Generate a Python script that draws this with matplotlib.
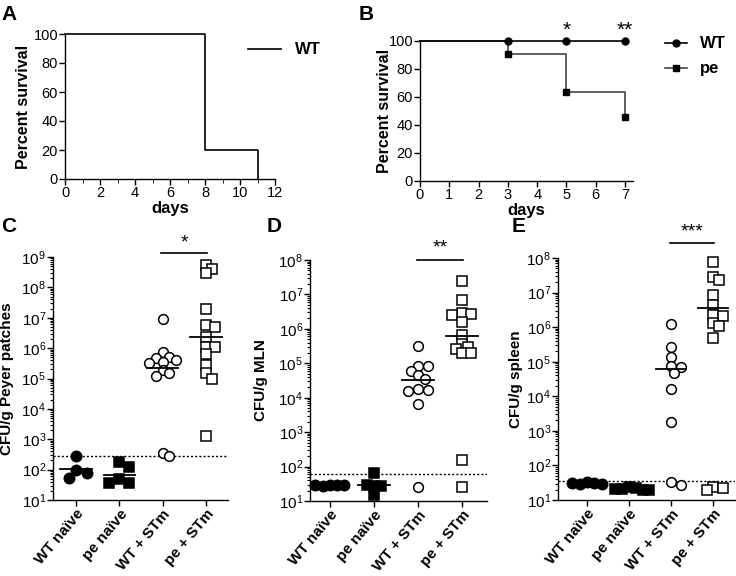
import numpy as np
import matplotlib.pyplot as plt
from matplotlib.ticker import LogLocator, LogFormatterMathtext, NullFormatter, MultipleLocator

plt.rcParams['font.family'] = ['Liberation Sans', 'DejaVu Sans']
plt.rcParams['mathtext.default'] = 'regular'
plt.rcParams['axes.linewidth'] = 1.0

# --- survival data (A, B) ---
days_a = [0, 8, 11]
surv_a = [100, 20, 0]

days_b = [0, 3, 5, 7]
surv_b_wt = [100, 100, 100, 100]
surv_b_pe = [100, 90.9, 63.6, 45.5]
stars_b = {5: '*', 7: '**'}

# --- CFU data (C, D, E) ---
groups = ['WT naïve', 'pe naïve', 'WT + STm', 'pe + STm']

pp_wt_naive = [280, 100, 75, 52]
pp_pe_naive = [180, 125, 50, 35, 35]
pp_wt_stm = [9e6, 7.4e5, 5e5, 4.7e5, 4e5, 3.5e5, 3.2e5, 1.9e5, 1.5e5, 1.2e5, 355, 280]
pp_pe_stm = [5.4e8, 4e8, 3e8, 1.9e7, 5.7e6, 4.9e6, 2.3e6, 1.07e6, 1.07e6, 6.3e5,
             2.8e5, 1.5e5, 9.6e4, 1.3e3]
pp_lines = [105, 66, 2.3e5, 2.3e6]
pp_limit = 290

mln_wt_naive = [30, 29, 28, 30, 29]
mln_pe_naive = [65, 28, 28, 29, 15]
mln_wt_stm = [3.2e5, 8.5e4, 8.5e4, 6e4, 4.5e4, 3.5e4, 1.8e4, 1.7e4, 1.6e4, 6.6e3, 25]
mln_pe_stm = [2.5e7, 6.9e6, 2.9e6, 2.7e6, 2.5e6, 1.6e6, 6.7e5, 3.6e5, 3e5, 2.6e5,
              2e5, 2e5, 155, 26]
mln_lines = [30, 30, 3.3e4, 6.3e5]
mln_limit = 62

spl_wt_naive = [34, 32, 30, 29, 31]
spl_pe_naive = [23, 22, 21, 20, 21, 19]
spl_wt_stm = [1.2e6, 2.6e5, 1.35e5, 7.4e4, 6.9e4, 4.7e4, 1.6e4, 1.8e3, 33, 28]
spl_pe_stm = [7.6e7, 2.8e7, 2.3e7, 8.3e6, 4.4e6, 2.3e6, 2.1e6, 1.3e6, 1.07e6, 4.8e5,
              24, 22, 19.5]
spl_lines = [31, 21, 6.2e4, 3.5e6]
spl_limit = 36

W, H = 736, 576
fig = plt.figure(figsize=(W / 100, H / 100), dpi=100)


def px_axes(l, t, r, b):
    return fig.add_axes([l / W, 1 - b / H, (r - l) / W, (b - t) / H])


def clean(ax):
    ax.spines['top'].set_visible(False)
    ax.spines['right'].set_visible(False)
    ax.tick_params(direction='out', length=4, width=1, labelsize=10.5, pad=1)


def swarm(ax, xc, vals, d, gap):
    # simple beeswarm in pixel space (points may overlap)
    placed = []
    xs = []
    x0 = ax.transData.transform((xc, vals[0]))[0]
    for v in vals:
        yp = ax.transData.transform((xc, v))[1]
        k = 0
        while True:
            off = ((k + 1) // 2) * (1 if k % 2 else -1) * d * 0.35
            ok = all((off - px) ** 2 + (yp - py) ** 2 >= (d * gap) ** 2 for px, py in placed)
            if ok:
                break
            k += 1
        placed.append((off, yp))
        xs.append(ax.transData.inverted().transform((x0 + off, yp))[0])
    return xs


# ---- A ----
axA = px_axes(65, 34, 275, 179)
clean(axA)
axA.step(days_a, surv_a, where='post', color='black', lw=1.2, label='WT', clip_on=False)
axA.set_xlim(0, 12)
axA.set_ylim(0, 100)
axA.xaxis.set_major_locator(MultipleLocator(2))
axA.xaxis.set_minor_locator(MultipleLocator(1))
axA.tick_params(which='minor', length=3)
axA.yaxis.set_major_locator(MultipleLocator(20))
axA.set_xlabel('days', fontsize=12, fontweight='bold', labelpad=1)
axA.set_ylabel('Percent survival', fontsize=11.5, fontweight='bold')
axA.yaxis.set_label_coords(-34 / 210, 0.5)
axA.legend(loc='center left', bbox_to_anchor=(0.80, 0.89), frameon=False,
           handlelength=2.0, prop={'weight': 'bold', 'size': 12})

# ---- B ----
axB = px_axes(420, 41, 633, 181)
clean(axB)
axB.step(days_b, surv_b_pe, where='post', color='#444444', lw=1.2, marker='s', ms=5,
         mfc='black', mec='black', markevery=[1, 2, 3], label='pe', clip_on=False, zorder=2)
axB.step(days_b, surv_b_wt, where='post', color='black', lw=1.2, marker='o', ms=5,
         markevery=[1, 2, 3], label='WT', clip_on=False, zorder=3)
axB.set_xlim(0, 7.27)
axB.set_ylim(0, 100)
axB.xaxis.set_major_locator(MultipleLocator(1))
axB.yaxis.set_major_locator(MultipleLocator(20))
axB.set_xlabel('days', fontsize=12, fontweight='bold', labelpad=1)
axB.set_ylabel('Percent survival', fontsize=11.5, fontweight='bold')
axB.yaxis.set_label_coords(-28 / 213, 0.5)
for d, s in stars_b.items():
    axB.text(d, 101, s, ha='center', va='bottom', fontsize=15)
h, l = axB.get_legend_handles_labels()
axB.legend(h[::-1], l[::-1], loc='upper left', bbox_to_anchor=(1.08, 1.14), frameon=False,
           handlelength=1.3, labelspacing=0.6, prop={'weight': 'bold', 'size': 12})


# ---- C, D, E ----
def cfu_panel(box, xlim, ymax, data, lines, limit, ylabel, lab_off, star, bar_y, star_y,
              naive_gap):
    ax = px_axes(*box)
    clean(ax)
    ax.set_yscale('log')
    ax.set_ylim(10, ymax)
    ax.set_xlim(*xlim)
    ax.yaxis.set_major_locator(LogLocator(base=10, numticks=20))
    ax.yaxis.set_major_formatter(LogFormatterMathtext())
    ax.yaxis.set_minor_locator(LogLocator(base=10, subs=np.arange(2, 10), numticks=20))
    ax.yaxis.set_minor_formatter(NullFormatter())
    ax.tick_params(which='minor', length=2, width=0.8)
    ax.tick_params(axis='y', labelsize=11)
    ax.axhline(limit, color='black', lw=1, ls=(0, (1.5, 1.5)))
    styles = [('o', 'black', 7.5, naive_gap), ('s', 'black', 7, naive_gap),
              ('o', 'white', 7, 0.75), ('s', 'white', 6.5, 0.75)]
    for i, vals in enumerate(data):
        mk, fc, ms, gap = styles[i]
        xs = swarm(ax, i, vals, ms * 100 / 72, gap)
        ax.plot(xs, vals, ls='none', marker=mk, ms=ms, mfc=fc, mec='black', mew=1.1,
                clip_on=False, zorder=3)
        ax.plot([i - 0.36, i + 0.36], [lines[i], lines[i]], color='black', lw=1.3, zorder=4)
    ax.set_xticks(range(len(groups)))
    ax.set_xticklabels(groups, rotation=50, ha='right', rotation_mode='anchor',
                       fontsize=11, fontweight='bold')
    ax.set_ylabel(ylabel, fontsize=11, fontweight='bold')
    ax.yaxis.set_label_coords(lab_off, 0.5)
    ax.plot([1.97, 3.03], [bar_y, bar_y], color='black', lw=1.2, clip_on=False)
    ax.text(2.5, star_y, star, ha='center', va='center', fontsize=14)
    return ax


axC = cfu_panel((53, 257, 228, 500), (-0.53, 3.51), 1e9,
                [pp_wt_naive, pp_pe_naive, pp_wt_stm, pp_pe_stm], pp_lines, pp_limit,
                'CFU/g Peyer patches', -0.225, '*', 1.35e9, 2.8e9, 0.9)
axD = cfu_panel((310, 260, 487, 501), (-0.45, 3.57), 1e8,
                [mln_wt_naive, mln_pe_naive, mln_wt_stm, mln_pe_stm], mln_lines, mln_limit,
                'CFU/g MLN', -0.237, '**', 1.03e8, 2.3e8, 0.45)
axE = cfu_panel((558, 258, 735, 500), (-0.69, 3.52), 1e8,
                [spl_wt_naive, spl_pe_naive, spl_wt_stm, spl_pe_stm], spl_lines, spl_limit,
                'CFU/g spleen', -0.2, '***', 2.7e8, 5.5e8, 0.45)

# panel letters
for letter, x, y in [('A', 9, 14), ('B', 366, 14), ('C', 9, 227), ('D', 274, 227), ('E', 519, 227)]:
    fig.text(x / W, 1 - y / H, letter, ha='center', va='center', fontsize=15, fontweight='bold')

fig.savefig('out.png', dpi=100)
